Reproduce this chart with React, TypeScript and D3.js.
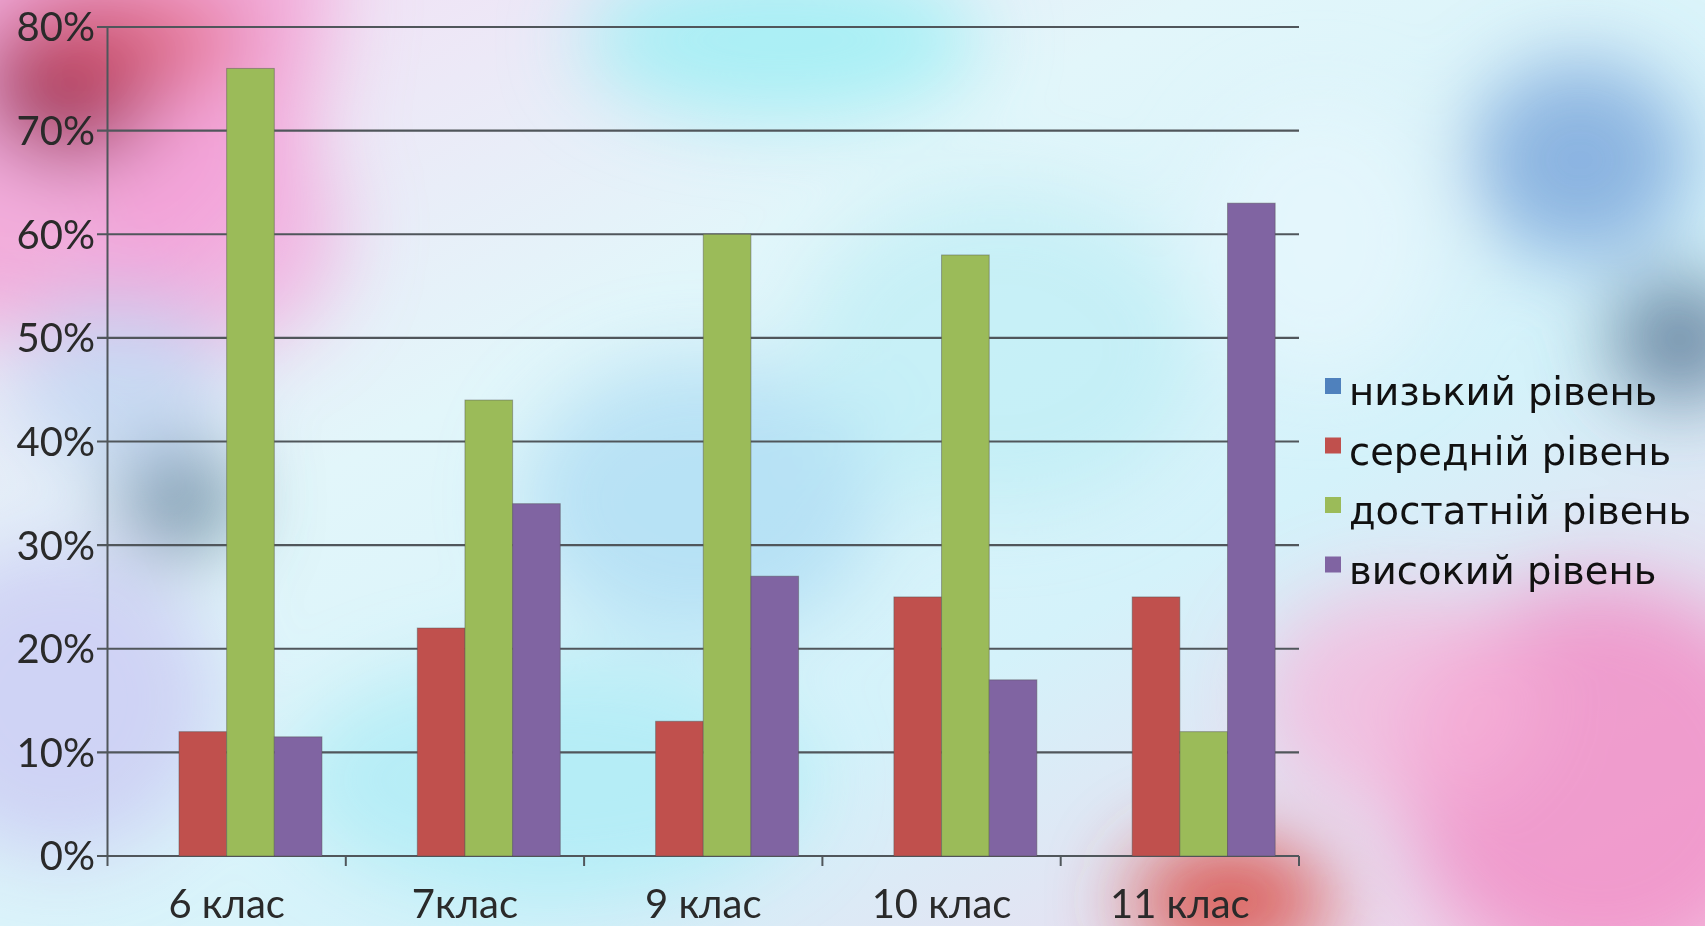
import React from "react";
import * as d3 from "d3";

const categories = ["6 клас", "7клас", "9 клас", "10 клас", "11 клас"];
const seriesNames = ["низький рівень", "середній рівень", "достатній рівень", "високий рівень"];
const lowLevel = [0, 0, 0, 0, 0];
const mediumLevel = [12, 22, 13, 25, 25];
const sufficientLevel = [76, 44, 60, 58, 12];
const highLevel = [11.5, 34, 27, 17, 63];
const yTicks = [0, 10, 20, 30, 40, 50, 60, 70, 80];
const seriesColors = ["#4F81BD", "#C0504D", "#9BBB59", "#8064A2"];

const W = 1705;
const H = 926;

const blobs = [
  { cx: 0, cy: 0, rx: 330, ry: 330, c: "#f2a6d8", o: 0.9 },
  { cx: 70, cy: 80, rx: 90, ry: 80, c: "#8e2344", o: 0.9 },
  { cx: 130, cy: 40, rx: 120, ry: 60, c: "#e0607a", o: 0.7 },
  { cx: 220, cy: 230, rx: 120, ry: 120, c: "#f3a0d8", o: 0.7 },
  { cx: 180, cy: 500, rx: 60, ry: 55, c: "#587a93", o: 0.8 },
  { cx: 120, cy: 380, rx: 110, ry: 90, c: "#b4cdf0", o: 0.6 },
  { cx: 60, cy: 700, rx: 160, ry: 160, c: "#c8c4f2", o: 0.7 },
  { cx: 780, cy: 40, rx: 200, ry: 80, c: "#8ff0f4", o: 0.7 },
  { cx: 700, cy: 500, rx: 180, ry: 140, c: "#9fd6f2", o: 0.6 },
  { cx: 550, cy: 780, rx: 260, ry: 120, c: "#9ee9f4", o: 0.6 },
  { cx: 1000, cy: 350, rx: 200, ry: 160, c: "#b2ecf4", o: 0.5 },
  { cx: 1580, cy: 160, rx: 110, ry: 100, c: "#6b98d6", o: 0.7 },
  { cx: 1680, cy: 340, rx: 70, ry: 60, c: "#4e6c8c", o: 0.8 },
  { cx: 1600, cy: 780, rx: 200, ry: 200, c: "#f08cc4", o: 0.8 },
  { cx: 1400, cy: 700, rx: 140, ry: 110, c: "#f6b2d8", o: 0.7 },
  { cx: 1230, cy: 900, rx: 100, ry: 60, c: "#d8443c", o: 0.85 },
  { cx: 1320, cy: 240, rx: 120, ry: 140, c: "#e6f6fc", o: 0.8 },
];

export default function App() {
  const y = d3.scaleLinear().domain([0, 80]).range([856, 27]);
  const x0 = d3.scaleBand<string>().domain(categories).range([107.5, 1299]).paddingInner(0).paddingOuter(0);
  const bw = x0.bandwidth();
  const x1 = d3.scaleBand<string>().domain(seriesNames).range([bw * 0.1, bw * 0.9]).padding(0);
  const data = [lowLevel, mediumLevel, sufficientLevel, highLevel];
  const axisColor = "#50565b";
  const boundaries = [...categories.map((c) => x0(c) as number), 1299];

  return (
    <svg
      width={W}
      height={H}
      style={{ position: "absolute", left: 0, top: 0, display: "block" }}
    >
      <defs>
        <linearGradient id="bg" x1="0" y1="0" x2="1" y2="1">
          <stop offset="0" stopColor="#f6dcf4" />
          <stop offset="0.35" stopColor="#e2f6fa" />
          <stop offset="0.65" stopColor="#d4f2fa" />
          <stop offset="1" stopColor="#f4d2ea" />
        </linearGradient>
        <filter id="blur" x="-50%" y="-50%" width="200%" height="200%">
          <feGaussianBlur stdDeviation="40" />
        </filter>
      </defs>
      <rect x={0} y={0} width={W} height={H} fill="url(#bg)" />
      <g filter="url(#blur)">
        {blobs.map((b, i) => (
          <ellipse key={i} cx={b.cx} cy={b.cy} rx={b.rx} ry={b.ry} fill={b.c} opacity={b.o} />
        ))}
      </g>

      {/* gridlines */}
      {yTicks.map((t) => (
        <line
          key={t}
          x1={97}
          x2={1299}
          y1={y(t)}
          y2={y(t)}
          stroke={axisColor}
          strokeWidth={2.2}
        />
      ))}
      {/* y axis */}
      <line x1={107.5} x2={107.5} y1={y(80)} y2={y(0)} stroke={axisColor} strokeWidth={2} />
      {/* x ticks */}
      {boundaries.map((b, i) => (
        <line key={i} x1={b} x2={b} y1={y(0)} y2={y(0) + 10} stroke={axisColor} strokeWidth={2} />
      ))}

      {/* bars */}
      {categories.map((c, ci) => (
        <g key={c} transform={`translate(${x0(c)},0)`}>
          {seriesNames.map((s, si) => {
            const v = data[si][ci];
            if (v <= 0) return null;
            return (
              <rect
                key={s}
                x={x1(s)}
                y={y(v)}
                width={x1.bandwidth()}
                height={y(0) - y(v)}
                fill={seriesColors[si]}
                stroke="rgba(80,80,80,0.45)"
                strokeWidth={1}
              />
            );
          })}
        </g>
      ))}

      {/* y labels */}
      {yTicks.map((t) => (
        <text
          key={t}
          x={95}
          y={y(t)}
          dy="0.36em"
          textAnchor="end"
          fontFamily="Lato"
          fontSize={40}
          fill="#2a2a2a"
        >
          {`${t}%`}
        </text>
      ))}

      {/* x labels */}
      {categories.map((c) => (
        <text
          key={c}
          x={(x0(c) as number) + bw / 2}
          y={918}
          textAnchor="middle"
          fontFamily="Lato"
          fontSize={40}
          fill="#2a2a2a"
        >
          {c}
        </text>
      ))}

      {/* legend */}
      {seriesNames.map((s, i) => {
        const base = 405 + i * 59.5;
        return (
          <g key={s}>
            <rect x={1325} y={base - 27} width={16} height={16} fill={seriesColors[i]} />
            <text x={1349} y={base} fontFamily="DejaVu Sans" fontSize={38.5} fill="#111">
              {s}
            </text>
          </g>
        );
      })}
    </svg>
  );
}
